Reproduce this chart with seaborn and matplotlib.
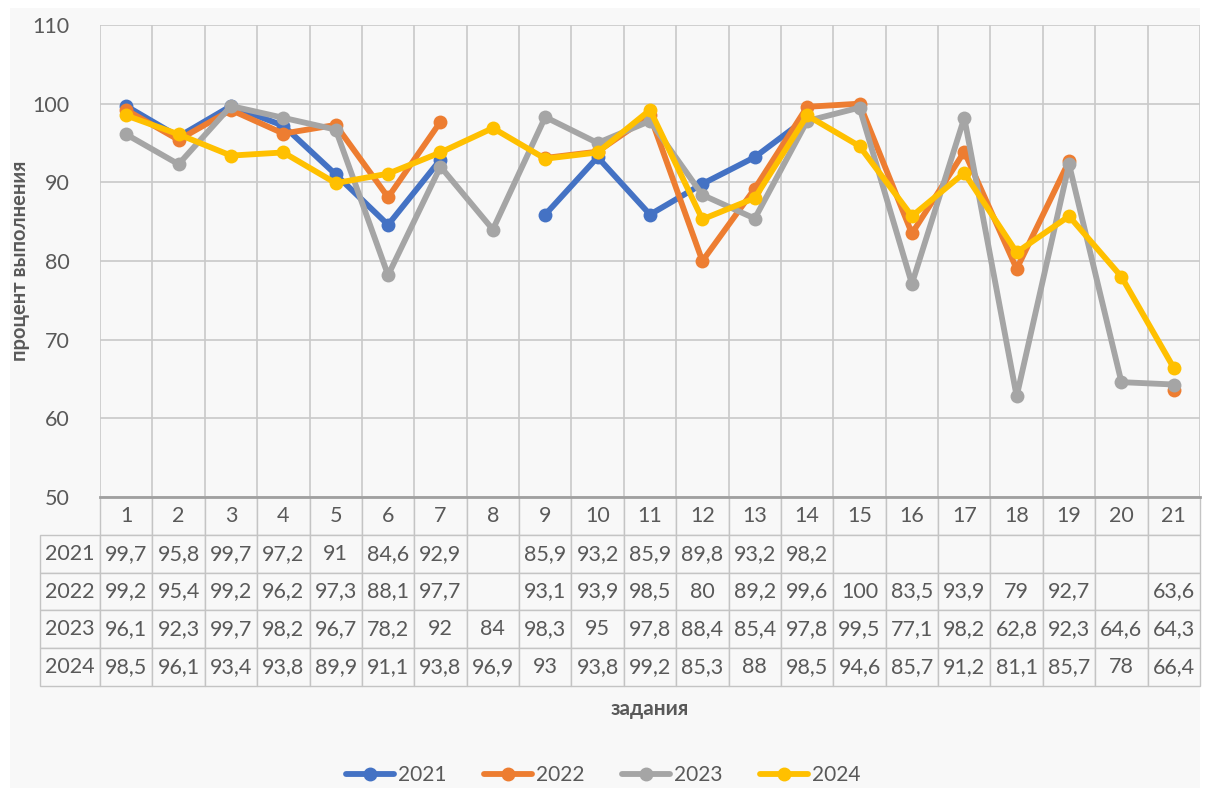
import numpy as np
import pandas as pd
import matplotlib.pyplot as plt
import seaborn as sns
from matplotlib.patches import Rectangle

nan = np.nan
tasks = list(range(1, 22))
years = ['2021', '2022', '2023', '2024']
v2021 = [99.7, 95.8, 99.7, 97.2, 91, 84.6, 92.9, nan, 85.9, 93.2, 85.9, 89.8, 93.2, 98.2,
         nan, nan, nan, nan, nan, nan, nan]
v2022 = [99.2, 95.4, 99.2, 96.2, 97.3, 88.1, 97.7, nan, 93.1, 93.9, 98.5, 80, 89.2, 99.6,
         100, 83.5, 93.9, 79, 92.7, nan, 63.6]
v2023 = [96.1, 92.3, 99.7, 98.2, 96.7, 78.2, 92, 84, 98.3, 95, 97.8, 88.4, 85.4, 97.8,
         99.5, 77.1, 98.2, 62.8, 92.3, 64.6, 64.3]
v2024 = [98.5, 96.1, 93.4, 93.8, 89.9, 91.1, 93.8, 96.9, 93, 93.8, 99.2, 85.3, 88, 98.5,
         94.6, 85.7, 91.2, 81.1, 85.7, 78, 66.4]
series = [v2021, v2022, v2023, v2024]
colors = ['#4472C4', '#ED7D31', '#A5A5A5', '#FFC000']

# long-form table, with a segment id so that gaps stay gaps
rows = []
for y, vals in zip(years, series):
    seg = 0
    for t, v in zip(tasks, vals):
        if np.isnan(v):
            seg += 1
            continue
        rows.append({'task': t, 'value': v, 'year': y, 'seg': f'{y}-{seg}'})
df = pd.DataFrame(rows)

sns.set_theme(style='white')
plt.rcParams['font.family'] = ['Lato', 'DejaVu Sans']
txt = '#595959'

fig = plt.figure(figsize=(12.05, 7.94), dpi=100, facecolor='white')
fig.patches.append(Rectangle((10 / 1205, 6 / 794), 1190 / 1205, 780 / 794,
                             transform=fig.transFigure, facecolor='#f8f8f8',
                             edgecolor='none', zorder=-10))
ax = fig.add_axes([100 / 1205, 1 - 497 / 794, 1100 / 1205, 472 / 794])
ax.set_facecolor('#f8f8f8')

sns.lineplot(data=df, x='task', y='value', hue='year', units='seg', estimator=None,
             palette=dict(zip(years, colors)), hue_order=years, marker='o',
             markersize=10, markeredgewidth=0, linewidth=4.2, legend=False, ax=ax)

ax.set_xlim(0.5, 21.5)
ax.set_ylim(50, 110)
ax.set_yticks(range(50, 111, 10))
ax.set_xticks([])
ax.set_xticks(np.arange(0.5, 21.6, 1), minor=True)
ax.grid(True, which='minor', axis='x', color='#c9c9c9', linewidth=1.2)
ax.grid(True, which='major', axis='y', color='#c9c9c9', linewidth=1.2)
ax.tick_params(axis='y', length=0, pad=22, labelsize=15.5, labelcolor=txt)
ax.tick_params(axis='x', which='both', length=0)
for s in ['top', 'right', 'left']:
    ax.spines[s].set_visible(False)
ax.spines['bottom'].set_color('#a0a0a0')
ax.spines['bottom'].set_linewidth(2)
ax.set_xlabel('')
ax.set_ylabel('процент выполнения', fontsize=14.5, fontweight='bold', color=txt)
ax.yaxis.set_label_coords(-0.064, 0.5)

# data table under the plot
def fmt(v):
    return '' if np.isnan(v) else f'{v:g}'.replace('.', ',')

cell_text = [[''] + [str(t) for t in tasks]]
for y, vals in zip(years, series):
    cell_text.append([y] + [fmt(v) for v in vals])
colw = [60] + [1100 / 21] * 21
axh = 472
tbl = ax.table(cellText=cell_text, cellLoc='center', colWidths=colw,
               bbox=[-60 / 1100, -189 / axh, 1160 / 1100, 189 / axh])
tbl.auto_set_font_size(False)
tbl.set_fontsize(15.5)
for (r, c), cell in tbl.get_celld().items():
    cell.set_edgecolor('#c4c4c4')
    cell.set_facecolor('#f8f8f8')
    cell.get_text().set_color(txt)
    cell.PAD = 0.02
    if r == 0 and c == 0:
        cell.set_edgecolor('none')
        cell.set_facecolor('none')

fig.text(650 / 1205, 1 - 709 / 794, 'задания', ha='center', va='center',
         fontsize=15, fontweight='bold', color=txt)

handles = [plt.Line2D([], [], color=c, linewidth=4.2, marker='o', markersize=9) for c in colors]
fig.legend(handles, years, loc='center', bbox_to_anchor=(603 / 1205, 1 - 775 / 794),
           ncol=4, frameon=False, fontsize=15, handlelength=2.3, columnspacing=1.8,
           handletextpad=0.2, labelcolor=txt)

fig.savefig('out.png', dpi=100, facecolor='white')
